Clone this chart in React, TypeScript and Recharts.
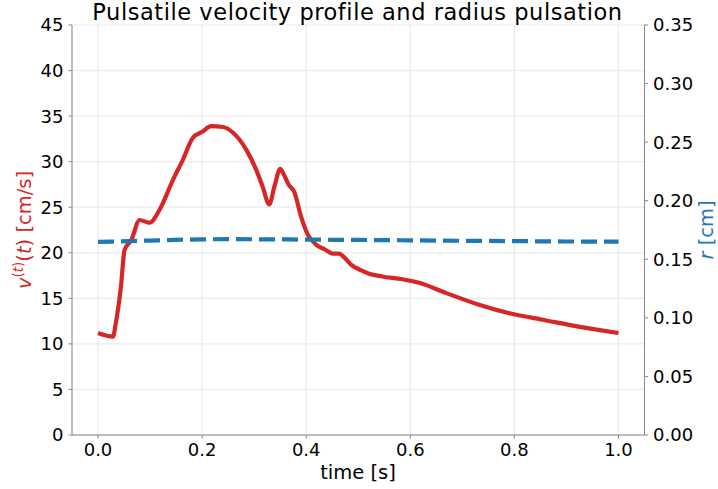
import React from "react";
import { LineChart, Line, XAxis, YAxis, CartesianGrid } from "recharts";

const timeV = [0, 0.029, 0.033, 0.044, 0.051, 0.064, 0.08, 0.099, 0.118, 0.144, 0.163, 0.182, 0.201, 0.217, 0.24, 0.259, 0.285, 0.304, 0.316, 0.329, 0.339, 0.35, 0.357, 0.366, 0.377, 0.39, 0.403, 0.419, 0.438, 0.451, 0.463, 0.473, 0.486, 0.505, 0.521, 0.546, 0.585, 0.617, 0.668, 0.732, 0.795, 0.859, 0.923, 1.0];
const velocity = [11.2, 10.8, 11.9, 16.3, 20.3, 21.4, 23.6, 23.3, 24.7, 28.0, 30.2, 32.6, 33.3, 33.9, 33.8, 33.2, 31.3, 29.1, 27.3, 25.3, 27.3, 29.2, 28.6, 27.5, 26.7, 24.0, 22.0, 20.9, 20.3, 19.9, 19.9, 19.5, 18.7, 18.1, 17.7, 17.4, 17.1, 16.7, 15.6, 14.3, 13.3, 12.6, 11.9, 11.2];

const timeR = [0, 0.1, 0.2, 0.25, 0.3, 0.4, 0.5, 0.6, 0.7, 0.8, 0.9, 1.0];
const radius = [0.1648, 0.166, 0.167, 0.1672, 0.1671, 0.1668, 0.1665, 0.1662, 0.1658, 0.1655, 0.1652, 0.165];

const xTicks = [0, 0.2, 0.4, 0.6, 0.8, 1.0];
const leftTicks = [0, 5, 10, 15, 20, 25, 30, 35, 40, 45];
const rightTicks = [0, 0.05, 0.1, 0.15, 0.2, 0.25, 0.3, 0.35];

const vData = timeV.map((t, i) => ({ t, v: velocity[i] }));
const rData = timeR.map((t, i) => ({ t, r: radius[i] }));

const TITLE = "Pulsatile velocity profile and radius pulsation";

const RED = "#d62728";
const BLUE = "#1f77b4";
const AXIS = "#888888";
const FONT = "DejaVu Sans";
const TICK_FS = 18;
const LABEL_FS = 19.5;

const LeftLabelAndTitle = () => (
  <g>
    <text
      x={357.5}
      y={19.5}
      textAnchor="middle"
      fill="#000"
      fontFamily={FONT}
      fontSize={22.5}
      letterSpacing={0.55}
    >
      {TITLE}
    </text>
    <text
      x={30.5}
      y={230}
      transform="rotate(-90, 30.5, 230)"
      textAnchor="middle"
      fill={RED}
      fontFamily={FONT}
      fontSize={LABEL_FS}
    >
      <tspan fontStyle="italic">v</tspan>
      <tspan dy={-8} fontSize={13.5}>(</tspan>
      <tspan fontSize={13.5} fontStyle="italic">t</tspan>
      <tspan fontSize={13.5}>)</tspan>
      <tspan dy={8}>(</tspan>
      <tspan fontStyle="italic">t</tspan>
      <tspan>) [cm/s]</tspan>
    </text>
  </g>
);

const RightLabel = () => (
  <text
    x={713}
    y={230}
    transform="rotate(-90, 713, 230)"
    textAnchor="middle"
    fill={BLUE}
    fontFamily={FONT}
    fontSize={LABEL_FS}
  >
    <tspan fontStyle="italic">r</tspan>
    <tspan> [cm]</tspan>
  </text>
);

const XLabel = () => (
  <text x={358} y={479} textAnchor="middle" fill="#000" fontFamily={FONT} fontSize={LABEL_FS}>
    time [s]
  </text>
);

export default function App() {
  const tickStyle = { fill: "#000", fontSize: TICK_FS, fontFamily: FONT };
  return (
    <div style={{ position: "absolute", left: 0, top: 0, width: 718, height: 489, background: "#fff" }}>
      <LineChart width={718} height={489} margin={{ top: 25, right: 0, left: 0, bottom: 0 }}>
        <CartesianGrid stroke="#ebebeb" strokeWidth={1.2} yAxisId="left" />
        <XAxis
          dataKey="t"
          type="number"
          domain={[-0.05, 1.05]}
          ticks={xTicks}
          allowDataOverflow
          tickFormatter={(v: number) => v.toFixed(1)}
          height={54}
          stroke={AXIS}
          tick={tickStyle}
          tickSize={3.5}
          tickMargin={4.7}
          label={<XLabel />}
        />
        <XAxis
          xAxisId="top"
          orientation="top"
          type="number"
          domain={[-0.05, 1.05]}
          height={0}
          tick={false}
          tickLine={false}
          stroke={AXIS}
        />
        <YAxis
          yAxisId="left"
          domain={[0, 45]}
          ticks={leftTicks}
          width={72}
          stroke={AXIS}
          tick={tickStyle}
          tickSize={3.5}
          tickMargin={5}
          label={<LeftLabelAndTitle />}
        />
        <YAxis
          yAxisId="right"
          orientation="right"
          domain={[0, 0.35]}
          ticks={rightTicks}
          tickFormatter={(v: number) => v.toFixed(2)}
          width={73.5}
          stroke={AXIS}
          tick={tickStyle}
          tickSize={3.5}
          tickMargin={5}
          label={<RightLabel />}
        />
        <Line
          yAxisId="left"
          data={vData}
          dataKey="v"
          type="monotone"
          stroke={RED}
          strokeWidth={4.2}
          dot={false}
          isAnimationActive={false}
        />
        <Line
          yAxisId="right"
          data={rData}
          dataKey="r"
          type="monotone"
          stroke={BLUE}
          strokeWidth={4.2}
          strokeDasharray="16 7"
          dot={false}
          isAnimationActive={false}
        />
      </LineChart>
    </div>
  );
}
